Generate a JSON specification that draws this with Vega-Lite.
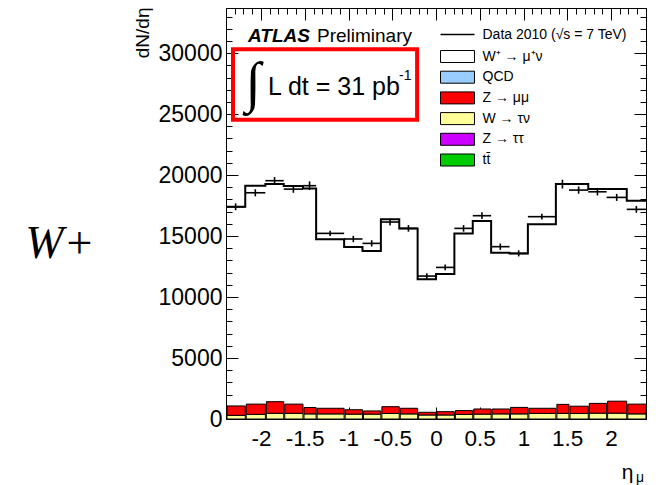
{
  "$schema": "https://vega.github.io/schema/vega-lite/v6.json",
  "autosize": "none",
  "width": 420,
  "height": 411,
  "padding": {"left": 226, "top": 8, "right": 10, "bottom": 66},
  "background": "white",
  "config": {
    "view": {"stroke": "black", "strokeWidth": 1},
    "font": "Liberation Sans",
    "text": {"font": "Liberation Sans", "color": "black"}
  },
  "title": {
    "text": "W+",
    "orient": "left",
    "angle": 0,
    "anchor": "middle",
    "align": "right",
    "baseline": "alphabetic",
    "font": "Liberation Serif",
    "fontStyle": "italic",
    "fontWeight": "normal",
    "fontSize": 46,
    "color": "black",
    "offset": -31,
    "dy": 44
  },
  "datasets": {
    "bins": [
      {"lo": -2.4, "hi": -2.18, "c": -2.29, "data": 17400, "err": 280},
      {"lo": -2.18, "hi": -1.95, "c": -2.065, "data": 18550, "err": 290},
      {"lo": -1.95, "hi": -1.74, "c": -1.845, "data": 19540, "err": 300},
      {"lo": -1.74, "hi": -1.52, "c": -1.63, "data": 18850, "err": 300},
      {"lo": -1.52, "hi": -1.37, "c": -1.445, "data": 19130, "err": 360},
      {"lo": -1.37, "hi": -1.05, "c": -1.21, "data": 15220, "err": 220},
      {"lo": -1.05, "hi": -0.84, "c": -0.945, "data": 14760, "err": 260},
      {"lo": -0.84, "hi": -0.63, "c": -0.735, "data": 14400, "err": 260},
      {"lo": -0.63, "hi": -0.42, "c": -0.525, "data": 16150, "err": 280},
      {"lo": -0.42, "hi": -0.21, "c": -0.315, "data": 15630, "err": 270},
      {"lo": -0.21, "hi": 0, "c": -0.105, "data": 11720, "err": 240},
      {"lo": 0, "hi": 0.21, "c": 0.105, "data": 12430, "err": 240},
      {"lo": 0.21, "hi": 0.42, "c": 0.315, "data": 15630, "err": 270},
      {"lo": 0.42, "hi": 0.63, "c": 0.525, "data": 16670, "err": 280},
      {"lo": 0.63, "hi": 0.84, "c": 0.735, "data": 14130, "err": 260},
      {"lo": 0.84, "hi": 1.05, "c": 0.945, "data": 13580, "err": 250},
      {"lo": 1.05, "hi": 1.37, "c": 1.21, "data": 16590, "err": 230},
      {"lo": 1.37, "hi": 1.52, "c": 1.445, "data": 19260, "err": 360},
      {"lo": 1.52, "hi": 1.74, "c": 1.63, "data": 18770, "err": 300},
      {"lo": 1.74, "hi": 1.95, "c": 1.845, "data": 18630, "err": 300},
      {"lo": 1.95, "hi": 2.18, "c": 2.065, "data": 18170, "err": 290},
      {"lo": 2.18, "hi": 2.4, "c": 2.29, "data": 17190, "err": 280}
    ],
    "mc": [
      {"edge": -2.4, "n": 17400},
      {"edge": -2.18, "n": 19120},
      {"edge": -1.95, "n": 19260},
      {"edge": -1.74, "n": 19100},
      {"edge": -1.52, "n": 18910},
      {"edge": -1.37, "n": 14730},
      {"edge": -1.05, "n": 14100},
      {"edge": -0.84, "n": 13770},
      {"edge": -0.63, "n": 16370},
      {"edge": -0.42, "n": 15630},
      {"edge": -0.21, "n": 11450},
      {"edge": 0, "n": 11890},
      {"edge": 0.21, "n": 15220},
      {"edge": 0.42, "n": 16230},
      {"edge": 0.63, "n": 13630},
      {"edge": 0.84, "n": 13580},
      {"edge": 1.05, "n": 15960},
      {"edge": 1.37, "n": 19260},
      {"edge": 1.52, "n": 19260},
      {"edge": 1.74, "n": 18850},
      {"edge": 1.95, "n": 18850},
      {"edge": 2.18, "n": 17900},
      {"edge": 2.4, "n": 17900}
    ],
    "bkg": [
      {"lo": -2.4, "hi": -2.18, "proc": "W → τν", "n": 300},
      {"lo": -2.18, "hi": -1.95, "proc": "W → τν", "n": 380},
      {"lo": -1.95, "hi": -1.74, "proc": "W → τν", "n": 470},
      {"lo": -1.74, "hi": -1.52, "proc": "W → τν", "n": 470},
      {"lo": -1.52, "hi": -1.37, "proc": "W → τν", "n": 420},
      {"lo": -1.37, "hi": -1.05, "proc": "W → τν", "n": 420},
      {"lo": -1.05, "hi": -0.84, "proc": "W → τν", "n": 400},
      {"lo": -0.84, "hi": -0.63, "proc": "W → τν", "n": 400},
      {"lo": -0.63, "hi": -0.42, "proc": "W → τν", "n": 450},
      {"lo": -0.42, "hi": -0.21, "proc": "W → τν", "n": 420},
      {"lo": -0.21, "hi": 0, "proc": "W → τν", "n": 330},
      {"lo": 0, "hi": 0.21, "proc": "W → τν", "n": 330},
      {"lo": 0.21, "hi": 0.42, "proc": "W → τν", "n": 380},
      {"lo": 0.42, "hi": 0.63, "proc": "W → τν", "n": 400},
      {"lo": 0.63, "hi": 0.84, "proc": "W → τν", "n": 420},
      {"lo": 0.84, "hi": 1.05, "proc": "W → τν", "n": 420},
      {"lo": 1.05, "hi": 1.37, "proc": "W → τν", "n": 460},
      {"lo": 1.37, "hi": 1.52, "proc": "W → τν", "n": 460},
      {"lo": 1.52, "hi": 1.74, "proc": "W → τν", "n": 450},
      {"lo": 1.74, "hi": 1.95, "proc": "W → τν", "n": 480},
      {"lo": 1.95, "hi": 2.18, "proc": "W → τν", "n": 480},
      {"lo": 2.18, "hi": 2.4, "proc": "W → τν", "n": 420},
      {"lo": -2.4, "hi": -2.18, "proc": "Z → μμ", "n": 770},
      {"lo": -2.18, "hi": -1.95, "proc": "Z → μμ", "n": 840},
      {"lo": -1.95, "hi": -1.74, "proc": "Z → μμ", "n": 950},
      {"lo": -1.74, "hi": -1.52, "proc": "Z → μμ", "n": 750},
      {"lo": -1.52, "hi": -1.37, "proc": "Z → μμ", "n": 520},
      {"lo": -1.37, "hi": -1.05, "proc": "Z → μμ", "n": 460},
      {"lo": -1.05, "hi": -0.84, "proc": "Z → μμ", "n": 360},
      {"lo": -0.84, "hi": -0.63, "proc": "Z → μμ", "n": 260},
      {"lo": -0.63, "hi": -0.42, "proc": "Z → μμ", "n": 560},
      {"lo": -0.42, "hi": -0.21, "proc": "Z → μμ", "n": 460},
      {"lo": -0.21, "hi": 0, "proc": "Z → μμ", "n": 220},
      {"lo": 0, "hi": 0.21, "proc": "Z → μμ", "n": 270},
      {"lo": 0.21, "hi": 0.42, "proc": "Z → μμ", "n": 310},
      {"lo": 0.42, "hi": 0.63, "proc": "Z → μμ", "n": 420},
      {"lo": 0.63, "hi": 0.84, "proc": "Z → μμ", "n": 400},
      {"lo": 0.84, "hi": 1.05, "proc": "Z → μμ", "n": 530},
      {"lo": 1.05, "hi": 1.37, "proc": "Z → μμ", "n": 420},
      {"lo": 1.37, "hi": 1.52, "proc": "Z → μμ", "n": 740},
      {"lo": 1.52, "hi": 1.74, "proc": "Z → μμ", "n": 600},
      {"lo": 1.74, "hi": 1.95, "proc": "Z → μμ", "n": 800},
      {"lo": 1.95, "hi": 2.18, "proc": "Z → μμ", "n": 980},
      {"lo": 2.18, "hi": 2.4, "proc": "Z → μμ", "n": 800}
    ],
    "one": [{}]
  },
  "layer": [
    {
      "data": {"name": "bkg"},
      "mark": {"type": "bar", "stroke": "black", "strokeWidth": 1, "opacity": 1},
      "encoding": {
        "x": {"field": "lo", "type": "quantitative", "bin": {"binned": true}, "axis": null,
              "scale": {"domain": [-2.4, 2.4], "nice": false, "zero": false}},
        "x2": {"field": "hi"},
        "y": {"field": "n", "type": "quantitative", "stack": "zero", "axis": null,
              "scale": {"domain": [0, 33700], "nice": false, "zero": true}},
        "order": {"field": "proc", "type": "nominal", "sort": "ascending"},
        "fill": {
          "field": "proc", "type": "nominal",
          "scale": {
            "domain": ["W⁺ → μ⁺ν", "QCD", "Z → μμ", "W → τν", "Z → ττ", "tt̄"],
            "range": ["#ffffff", "#99ccff", "#ff0000", "#ffff99", "#cc00ff", "#00cc00"]
          },
          "legend": {
            "orient": "none", "legendX": 224.5, "legendY": 41.5, "title": null,
            "symbolType": "M-2.83,-1H2.83V1H-2.83Z", "symbolSize": 144,
            "symbolStrokeColor": "black", "symbolStrokeWidth": 1, "symbolOpacity": 1,
            "labelFont": "Liberation Sans", "labelFontSize": 14, "labelColor": "black",
            "labelOffset": 18, "rowPadding": 4.7, "padding": 0, "labelLimit": 300
          }
        }
      }
    },
    {
      "data": {"name": "mc"},
      "mark": {"type": "line", "interpolate": "step-after", "color": "black", "strokeWidth": 2},
      "encoding": {
        "x": {"field": "edge", "type": "quantitative",
          "axis": {
            "orient": "bottom",
            "values": [-2.4,-2.3,-2.2,-2.1,-2,-1.9,-1.8,-1.7,-1.6,-1.5,-1.4,-1.3,-1.2,-1.1,-1,-0.9,-0.8,-0.7,-0.6,-0.5,-0.4,-0.3,-0.2,-0.1,0,0.1,0.2,0.3,0.4,0.5,0.6,0.7,0.8,0.9,1,1.1,1.2,1.3,1.4,1.5,1.6,1.7,1.8,1.9,2,2.1,2.2,2.3,2.4],
            "labelExpr": "abs(datum.value*2-round(datum.value*2))<0.001 ? toString(datum.value) : ''",
            "tickSize": {"condition": {"test": "abs(datum.value*2-round(datum.value*2))<0.001", "value": -12}, "value": -6},
            "tickColor": "black", "tickWidth": 1,
            "labelPadding": 20, "labelFont": "Liberation Sans", "labelFontSize": 22.5, "labelColor": "black",
            "labelOverlap": false, "labelFlush": false, "labelBound": false,
            "domain": false, "grid": false,
            "title": "η", "titleFont": "Liberation Sans", "titleFontSize": 21, "titleFontWeight": "normal", "titleColor": "black",
            "titleX": 407, "titleY": 59, "titleAlign": "right", "titleBaseline": "alphabetic", "titleAnchor": null
          }
        },
        "y": {"field": "n", "type": "quantitative",
          "axis": {
            "orient": "left",
            "values": [0,1000,2000,3000,4000,5000,6000,7000,8000,9000,10000,11000,12000,13000,14000,15000,16000,17000,18000,19000,20000,21000,22000,23000,24000,25000,26000,27000,28000,29000,30000,31000,32000,33000],
            "format": "d",
            "labelExpr": "datum.value % 5000 == 0 ? datum.label : ''",
            "tickSize": {"condition": {"test": "datum.value % 5000 == 0", "value": -12}, "value": -6},
            "tickColor": "black", "tickWidth": 1,
            "labelPadding": 16, "labelFont": "Liberation Sans", "labelFontSize": 23, "labelColor": "black",
            "labelOverlap": false, "labelFlush": false, "labelBound": false,
            "domain": false, "grid": false,
            "title": "dN/dη", "titleFont": "Liberation Sans", "titleFontSize": 19, "titleFontWeight": "normal", "titleColor": "black",
            "titleAngle": -90, "titleX": -84, "titleY": -1, "titleAlign": "right", "titleBaseline": "middle", "titleAnchor": null
          }
        }
      }
    },
    {
      "data": {"name": "bins"},
      "mark": {"type": "rule", "strokeWidth": 1.6},
      "encoding": {
        "x": {"field": "lo", "type": "quantitative",
          "axis": {
            "orient": "top",
            "values": [-2.4,-2.3,-2.2,-2.1,-2,-1.9,-1.8,-1.7,-1.6,-1.5,-1.4,-1.3,-1.2,-1.1,-1,-0.9,-0.8,-0.7,-0.6,-0.5,-0.4,-0.3,-0.2,-0.1,0,0.1,0.2,0.3,0.4,0.5,0.6,0.7,0.8,0.9,1,1.1,1.2,1.3,1.4,1.5,1.6,1.7,1.8,1.9,2,2.1,2.2,2.3,2.4],
            "labels": false,
            "tickSize": {"condition": {"test": "abs(datum.value*2-round(datum.value*2))<0.001", "value": -12}, "value": -6},
            "tickColor": "black", "tickWidth": 1,
            "domain": false, "grid": false, "title": null
          }
        },
        "x2": {"field": "hi"},
        "y": {"field": "data", "type": "quantitative",
          "axis": {
            "orient": "right",
            "values": [0,1000,2000,3000,4000,5000,6000,7000,8000,9000,10000,11000,12000,13000,14000,15000,16000,17000,18000,19000,20000,21000,22000,23000,24000,25000,26000,27000,28000,29000,30000,31000,32000,33000],
            "labels": false,
            "tickSize": {"condition": {"test": "datum.value % 5000 == 0", "value": -12}, "value": -6},
            "tickColor": "black", "tickWidth": 1,
            "domain": false, "grid": false, "title": null
          }
        },
        "stroke": {
          "datum": "Data 2010 (√s = 7 TeV)", "type": "nominal",
          "scale": {"range": ["black"]},
          "legend": {
            "orient": "none", "legendX": 224.5, "legendY": 19.5, "title": null,
            "symbolType": "M-2.83,0H2.83", "symbolSize": 144, "symbolStrokeWidth": 1.5,
            "labelFont": "Liberation Sans", "labelFontSize": 14, "labelColor": "black",
            "labelOffset": 18, "padding": 0, "labelLimit": 300
          }
        }
      }
    },
    {
      "data": {"name": "bins"},
      "mark": {"type": "errorbar", "color": "black", "thickness": 1.6},
      "encoding": {
        "x": {"field": "c", "type": "quantitative", "axis": null},
        "y": {"field": "data", "type": "quantitative", "axis": null},
        "yError": {"field": "err"}
      }
    },
    {
      "data": {"name": "one"},
      "mark": {"type": "rect", "fill": null, "fillOpacity": 0, "stroke": "#ff0000", "strokeWidth": 4},
      "encoding": {
        "x": {"datum": -2.32, "type": "quantitative", "axis": null},
        "x2": {"datum": -0.216},
        "y": {"datum": 24541, "type": "quantitative", "axis": null},
        "y2": {"datum": 30314}
      }
    },
    {
      "data": {"name": "one"},
      "mark": {"type": "text", "text": "ATLAS", "fontSize": 19, "fontWeight": "bold", "fontStyle": "italic", "align": "left", "baseline": "alphabetic"},
      "encoding": {
        "x": {"datum": -2.149, "type": "quantitative", "axis": null},
        "y": {"datum": 30937, "type": "quantitative", "axis": null}
      }
    },
    {
      "data": {"name": "one"},
      "mark": {"type": "text", "text": "Preliminary", "fontSize": 19, "align": "left", "baseline": "alphabetic"},
      "encoding": {
        "x": {"datum": -1.36, "type": "quantitative", "axis": null},
        "y": {"datum": 30937, "type": "quantitative", "axis": null}
      }
    },
    {
      "data": {"name": "one"},
      "mark": {"type": "text", "text": "∫", "font": "Liberation Serif", "fontSize": 56, "align": "center", "baseline": "middle"},
      "encoding": {
        "x": {"datum": -2.091, "type": "quantitative", "axis": null},
        "y": {"datum": 27509, "type": "quantitative", "axis": null}
      }
    },
    {
      "data": {"name": "one"},
      "mark": {"type": "text", "text": "L dt = 31 pb", "fontSize": 25, "align": "left", "baseline": "alphabetic"},
      "encoding": {
        "x": {"datum": -1.92, "type": "quantitative", "axis": null},
        "y": {"datum": 26566, "type": "quantitative", "axis": null}
      }
    },
    {
      "data": {"name": "one"},
      "mark": {"type": "text", "text": "-1", "fontSize": 14, "align": "left", "baseline": "alphabetic"},
      "encoding": {
        "x": {"datum": -0.423, "type": "quantitative", "axis": null},
        "y": {"datum": 27796, "type": "quantitative", "axis": null}
      }
    },
    {
      "data": {"name": "one"},
      "mark": {"type": "text", "text": "μ", "fontSize": 14, "align": "left", "baseline": "alphabetic"},
      "encoding": {
        "x": {"datum": 2.286, "type": "quantitative", "axis": null},
        "y": {"datum": -5125, "type": "quantitative", "axis": null}
      }
    }
  ],
  "resolve": {"axis": {"x": "independent", "y": "independent"}}
}
